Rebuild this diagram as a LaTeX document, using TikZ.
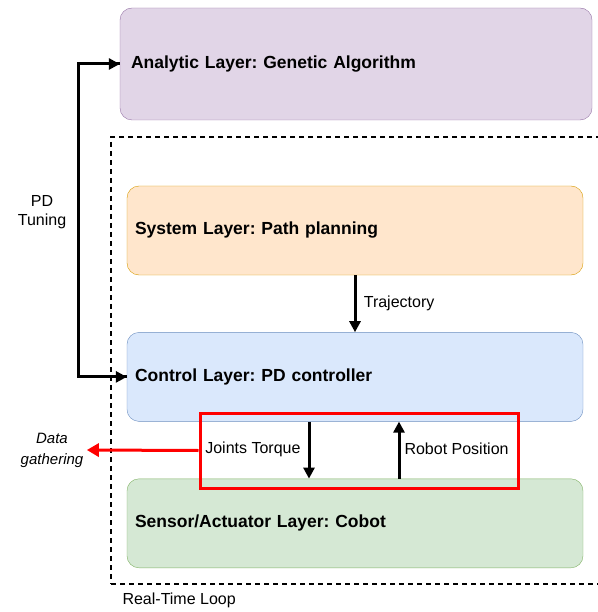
\documentclass[tikz,border=0pt]{standalone}
\usepackage{fontspec}
\setmainfont{Liberation Sans}
\usetikzlibrary{arrows.meta, positioning}
\usepackage{xcolor}
\frenchspacing
\definecolor{anafill}{HTML}{E1D5E7}\definecolor{anadraw}{HTML}{9673A6}
\definecolor{sysfill}{HTML}{FFE6CC}\definecolor{sysdraw}{HTML}{D79B00}
\definecolor{ctlfill}{HTML}{DAE8FC}\definecolor{ctldraw}{HTML}{6C8EBF}
\definecolor{senfill}{HTML}{D5E8D4}\definecolor{sendraw}{HTML}{82B366}

\begin{document}
\begin{tikzpicture}[
x=1pt, y=-1pt,
node distance=57pt,
font=\fontsize{16}{19}\selectfont,
layer/.style={draw, rectangle, rounded corners=12pt,
minimum width=456pt, minimum height=89pt,
text width=440pt, inner xsep=8pt, align=left,
font=\fontsize{17.5}{20}\selectfont\bfseries},
flow/.style={draw=black, line width=3pt, -{Triangle[length=11pt, width=11pt]}},
redflow/.style={draw=red, line width=3pt, -{Triangle[length=12pt, width=13pt]}}
]
\useasboundingbox (0,0) rectangle (597,612);

\node[layer, fill=anafill, draw=anadraw, minimum width=472pt, minimum height=112pt, text width=450pt, inner xsep=11pt] (analytic) at (356,64) {Analytic Layer: Genetic Algorithm};
\node[layer, fill=sysfill, draw=sysdraw] (system) at (355,230.5) {System Layer: Path planning};
\node[layer, fill=ctlfill, draw=ctldraw, below=of system] (control) {Control Layer: PD controller};
\node[layer, fill=senfill, draw=sendraw, below=of control] (sensor) {Sensor/Actuator Layer: Cobot};

% real-time loop
\node[draw, dashed, dash pattern=on 5pt off 4pt, line width=1.2pt, minimum width=494pt, minimum height=447pt] (loop) at (358,360.5) {};
\node[anchor=west] (looplbl) at (119,600) {Real-Time Loop};

\draw[flow] (system) -- node[right, xshift=4pt] (trajlbl) {Trajectory} (control);
\draw[flow] ([xshift=-46pt]control.south) -- ([xshift=-46pt]sensor.north);
\draw[flow] ([xshift=44pt]sensor.north) -- ([xshift=44pt]control.south);
\node[anchor=east] (torquelbl) at (304,449) {Joints Torque};
\node[anchor=west] (poslbl) at (401,449) {Robot Position};

% data gathering
\node[draw=red, line width=3pt, minimum width=318pt, minimum height=75pt] (gather) at (359,450.5) {};
\node[align=center, font=\fontsize{15}{21}\selectfont\itshape] (datalbl) at (52,450) {Data\\gathering};
\draw[redflow] (gather.west) -- (datalbl.east);

% PD tuning
\draw[draw=black, line width=3pt] (control.west) -- ++(-48,0) |- (analytic.west);
\draw[flow] ([xshift=-12pt]analytic.west) -- (analytic.west);
\draw[flow] ([xshift=-12pt]control.west) -- (control.west);
\node[align=center] (tunelbl) at (42,212) {PD\\Tuning};

\end{tikzpicture}
\end{document}
